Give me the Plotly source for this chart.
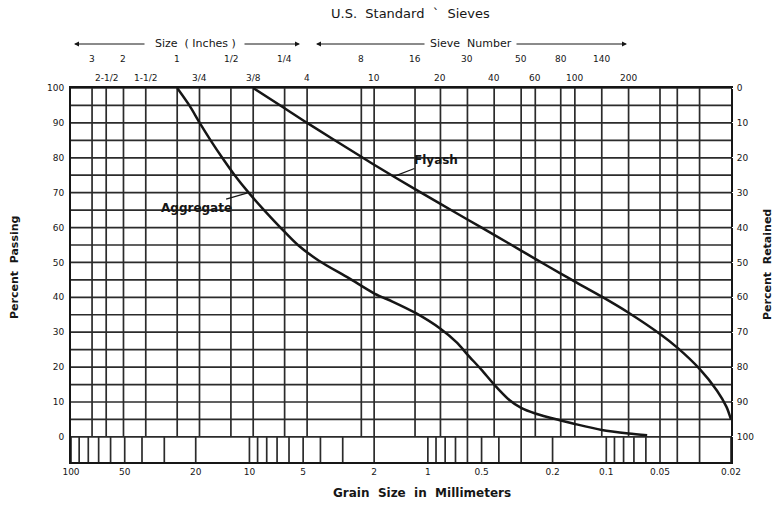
import numpy as np
import plotly.graph_objects as go

# ---- data -------------------------------------------------------------
# Gradation curves: grain size (mm) vs. percent passing
flyash_mm = [9.525, 6.35, 4.75, 2.36, 2.0, 1.18, 0.85, 0.6, 0.425, 0.3, 0.25,
             0.18, 0.15, 0.106, 0.075, 0.05, 0.04, 0.03, 0.024, 0.0212, 0.02]
flyash_pct = [100, 94.2, 90.0, 80.3, 78.0, 71.0, 66.8, 62.3, 57.9, 53.4, 51.0,
              46.8, 44.5, 40.2, 35.6, 29.5, 25.6, 19.5, 13.3, 8.6, 5.0]

aggregate_mm = [25.4, 21.7, 19.0, 16.5, 14.2, 12.1, 10.1, 8.28, 6.70, 5.35, 4.08,
                2.77, 1.98, 1.58, 1.18, 0.85, 0.687, 0.6, 0.5, 0.425, 0.348, 0.3,
                0.25, 0.18, 0.15, 0.106, 0.075, 0.059]
aggregate_pct = [100, 95, 90, 85, 80, 75, 70, 65, 60, 55, 50.5,
                 45.5, 41, 38.8, 35.6, 31.0, 27.0, 23.6, 19.2, 15.0, 10.5, 8.3,
                 6.7, 4.7, 3.7, 2.0, 1.0, 0.5]

# Sieve openings (mm) used as the main vertical rulings
sieve_mm = [76.2, 63.5, 50.8, 38.1, 25.4, 19.05, 12.7, 9.525, 6.35, 4.75,
            2.36, 2.0, 1.18, 0.85, 0.6, 0.425, 0.3, 0.25, 0.18, 0.15, 0.106,
            0.075, 0.05, 0.04, 0.03]

# Sieve designations, printed in two staggered rows above the chart
upper_labels = ["3", "2", "1", "1/2", "1/4", "8", "16", "30", "50", "80", "140"]
upper_mm = [76.2, 50.8, 25.4, 12.7, 6.35, 2.36, 1.18, 0.6, 0.3, 0.18, 0.106]
lower_labels = ["2-1/2", "1-1/2", "3/4", "3/8", "4", "10", "20", "40", "60", "100", "200"]
lower_mm = [63.5, 38.1, 19.05, 9.525, 4.75, 2.0, 0.85, 0.425, 0.25, 0.15, 0.075]

# Grain-size scale along the bottom
size_ticks = [100, 50, 20, 10, 5, 2, 1, 0.5, 0.2, 0.1, 0.05, 0.02]
size_text = ["100", "50", "20", "10", "5", "2", "1", "0.5", "0.2", "0.1", "0.05", "0.02"]

# Logarithmic ruling in the scale strip under the chart
strip_mm = [m * 10.0 ** e for e in (1, 0, -1, -2) for m in range(1, 10)] + [100]
strip_mm = [v for v in strip_mm if v >= 0.02 - 1e-9]

pct_ticks = list(range(0, 101, 10))
pct_grid = list(range(0, 101, 5))

X_MAX, X_MIN = 100, 0.02
STRIP = 7.2          # depth of the scale strip, in percent units

# ---- styling ----------------------------------------------------------
INK = "#161616"
GRID = "#2b2b2b"
FONT = "DejaVu Sans"
W, H = 776, 510
ML, MR, MT, MB = 71, 45, 88, 48
PW, PH = W - ML - MR, H - MT - MB


def px_x(px):
    return (px - ML) / PW


def px_y(py):
    return (MT + PH - py) / PH


def seg_xy(pairs):
    xs, ys = [], []
    for (x0, y0), (x1, y1) in pairs:
        xs += [x0, x1, None]
        ys += [y0, y1, None]
    return xs, ys


fig = go.Figure()

grid_line = dict(color=GRID, width=1.7)
# horizontal rulings every 5 %
hx, hy = seg_xy([((X_MAX, p), (X_MIN, p)) for p in pct_grid])
fig.add_trace(go.Scatter(x=hx, y=hy, mode="lines", line=grid_line,
                         hoverinfo="skip", showlegend=False))
# vertical sieve rulings
vx, vy = seg_xy([((s, 0), (s, 100)) for s in sieve_mm])
fig.add_trace(go.Scatter(x=vx, y=vy, mode="lines", line=grid_line,
                         hoverinfo="skip", showlegend=False))
# scale strip ruling
sx, sy = seg_xy([((s, -STRIP), (s, 0)) for s in strip_mm])
fig.add_trace(go.Scatter(x=sx, y=sy, mode="lines", line=grid_line,
                         hoverinfo="skip", showlegend=False))

# gradation curves
curve_line = dict(color=INK, width=2.5, shape="spline", smoothing=0.8)
fig.add_trace(go.Scatter(x=aggregate_mm, y=aggregate_pct, mode="lines", name="Aggregate",
                         line=curve_line, showlegend=False))
fig.add_trace(go.Scatter(x=flyash_mm, y=flyash_pct, mode="lines", name="Flyash",
                         line=curve_line, showlegend=False))
# percent retained (same curve, right-hand scale)
fig.add_trace(go.Scatter(x=flyash_mm, y=[100 - p for p in flyash_pct], yaxis="y2",
                         mode="lines", line=dict(color="rgba(0,0,0,0)", width=0),
                         hoverinfo="skip", showlegend=False))

tick_font = dict(family=FONT, size=9, color=INK)
fig.update_layout(
    width=W, height=H,
    margin=dict(l=ML, r=MR, t=MT, b=MB, pad=0),
    paper_bgcolor="white", plot_bgcolor="white",
    font=dict(family=FONT, color=INK),
    xaxis=dict(type="log", range=[np.log10(X_MAX), np.log10(X_MIN)],
               tickvals=size_ticks, ticktext=size_text, tickfont=tick_font,
               showgrid=False, zeroline=False, ticks="", showline=True, mirror=True,
               linecolor=INK, linewidth=2),
    yaxis=dict(range=[-STRIP, 100], tickvals=pct_ticks, tickfont=tick_font,
               showgrid=False, zeroline=False, ticks="outside", ticklen=3,
               tickcolor="white", showline=True, mirror=True, linecolor=INK, linewidth=2),
    yaxis2=dict(range=[100 + STRIP, 0], overlaying="y", side="right",
                tickvals=pct_ticks, tickfont=tick_font, showgrid=False, zeroline=False,
                ticks="outside", ticklen=3, tickcolor="white", showline=False),
)

ann = []


def label(text, px, py, size, angle=0, bold=False):
    return dict(text=f"<b>{text}</b>" if bold else text, x=px_x(px), y=px_y(py),
                xref="paper", yref="paper", xanchor="center", yanchor="middle",
                showarrow=False, textangle=angle,
                font=dict(size=size, family=FONT, color=INK))


# title and axis captions
ann.append(label("U.S.  Standard  `  Sieves", 410, 13, 13))
ann.append(label("Grain  Size  in  Millimeters", 422, 493, 12, bold=True))
ann.append(label("Percent  Passing", 14, 268, 11, angle=-90, bold=True))
ann.append(label("Percent  Retained", 767, 264, 11, angle=-90, bold=True))

# sieve designations
for lab, mm in zip(upper_labels, upper_mm):
    ann.append(dict(text=lab, x=np.log10(mm), y=px_y(59), xref="x", yref="paper",
                    xanchor="center", yanchor="middle", showarrow=False,
                    font=dict(size=9, family=FONT, color=INK)))
for lab, mm in zip(lower_labels, lower_mm):
    ann.append(dict(text=lab, x=np.log10(mm), y=px_y(78), xref="x", yref="paper",
                    xanchor="center", yanchor="middle", showarrow=False,
                    font=dict(size=9, family=FONT, color=INK)))

# group headings with their span arrows
ann.append(label("Size  ( Inches )", 195, 44, 11))
ann.append(label("Sieve  Number", 471, 44, 11))
for head, tail in [(74, 146), (300, 243), (316, 426), (627, 515)]:
    ann.append(dict(text="", x=px_x(head), y=px_y(44), xref="paper", yref="paper",
                    ax=tail - head, ay=0, showarrow=True, arrowhead=2, arrowsize=1,
                    arrowwidth=1, arrowcolor=INK, standoff=0, startstandoff=0))

# curve call-outs
ann.append(dict(text="<b>Aggregate</b>", x=np.log10(10.1), y=70, xref="x", yref="y",
                ax=-52, ay=15, showarrow=True, arrowhead=0, arrowwidth=1.2,
                arrowcolor=INK, standoff=1, font=dict(size=12, family=FONT, color=INK)))
ann.append(dict(text="<b>Flyash</b>", x=np.log10(1.58), y=74.5, xref="x", yref="y",
                ax=44, ay=-17, showarrow=True, arrowhead=0, arrowwidth=1.2,
                arrowcolor=INK, standoff=1, font=dict(size=12, family=FONT, color=INK)))

fig.update_layout(annotations=ann)
fig.write_html("out.html")
